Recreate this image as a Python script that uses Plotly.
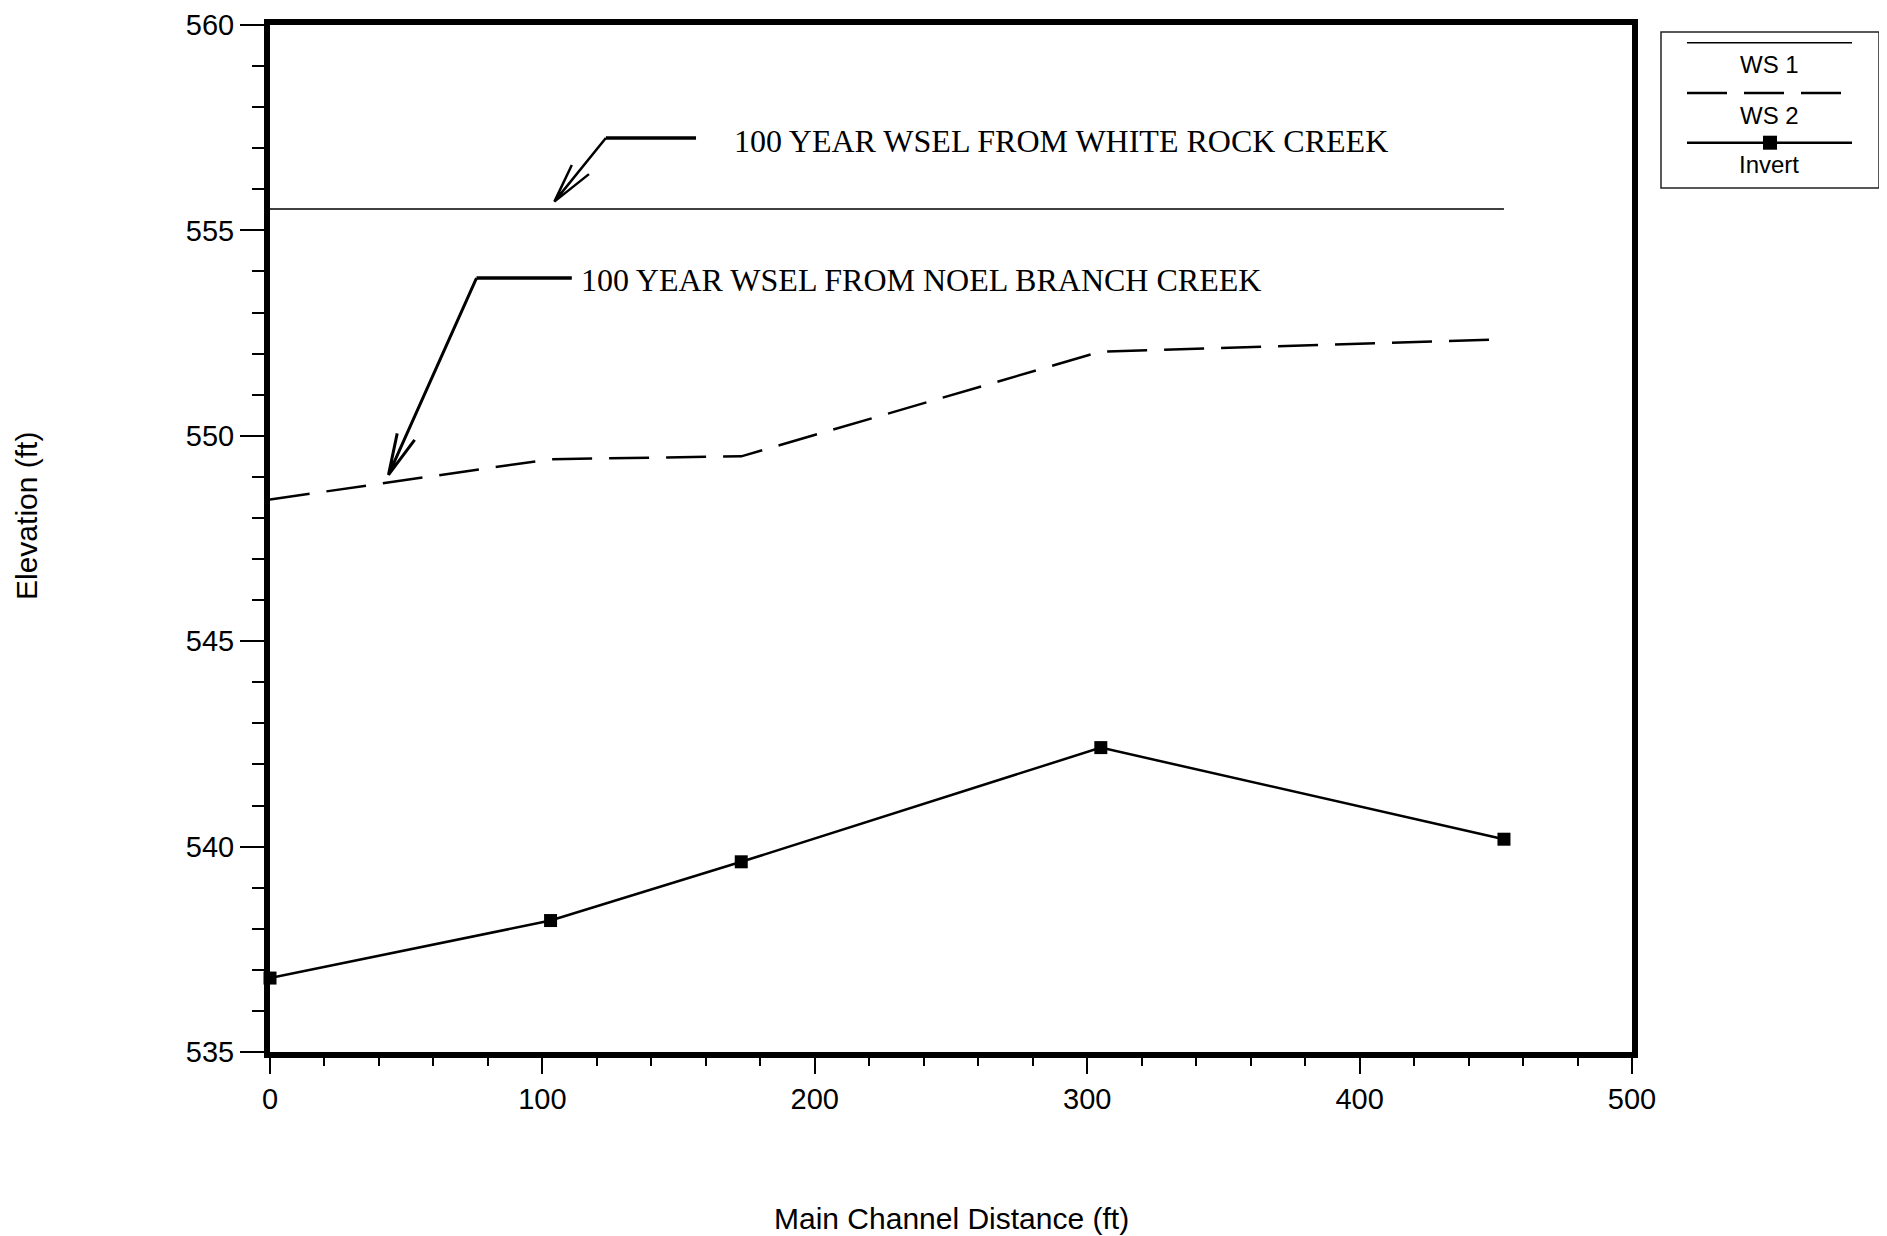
import plotly.graph_objects as go

# ---------------- data ----------------
station = [0, 103, 173, 305, 453]
ws1 = [555.52, 555.52, 555.52, 555.52, 555.52]
ws2 = [548.45, 549.43, 549.50, 552.05, 552.35]
invert = [536.80, 538.20, 539.63, 542.41, 540.18]

x_tick_vals = [0, 100, 200, 300, 400, 500]
y_tick_vals = [535, 540, 545, 550, 555, 560]
series_names = ["WS 1", "WS 2", "Invert"]
x_title = "Main Channel Distance (ft)"
y_title = "Elevation (ft)"
note_white = "100 YEAR WSEL FROM WHITE ROCK CREEK"
note_noel = "100 YEAR WSEL FROM NOEL BRANCH CREEK"

# ---------------- layout geometry (page pixels) ----------------
W, H = 1887, 1236
OFF = 8  # default body margin of the page
L, R, T, B = 270, 1632, 25, 1052
SANS = "Liberation Sans, Arial, sans-serif"
SERIF = "Liberation Serif, Times New Roman, serif"
DASH = "40px,17px"


def px(x):
    return (x - L) / (R - L)


def py(y):
    return (B - y) / (B - T)


fig = go.Figure()
fig.add_trace(go.Scatter(x=station, y=ws1, mode="lines", name=series_names[0],
                         line=dict(color="black", width=1.5), showlegend=False))
fig.add_trace(go.Scatter(x=station, y=ws2, mode="lines", name=series_names[1],
                         line=dict(color="black", width=2.5, dash=DASH), showlegend=False))
fig.add_trace(go.Scatter(x=station, y=invert, mode="lines+markers", name=series_names[2],
                         line=dict(color="black", width=2.5),
                         marker=dict(symbol="square", size=13, color="black"),
                         cliponaxis=False, showlegend=False))

shapes = []
annotations = []

# leader for White Rock Creek
shapes.append(dict(type="path", xref="x", yref="y",
                   path="M 123.3,557.25 L 156.4,557.25",
                   line=dict(color="black", width=3.5)))
shapes.append(dict(type="path", xref="x", yref="y",
                   path="M 123.3,557.25 L 104.4,555.70 M 110.8,556.59 L 104.4,555.70 L 117.1,556.37",
                   line=dict(color="black", width=2.5)))
annotations.append(dict(x=169.5, y=557.18, xref="x", yref="y", text=note_white,
                        showarrow=False, xanchor="left", yanchor="middle",
                        font=dict(family=SERIF, size=32, color="black")))

# leader for Noel Branch Creek
shapes.append(dict(type="path", xref="x", yref="y",
                   path="M 75.8,553.84 L 110.8,553.84",
                   line=dict(color="black", width=3.5)))
shapes.append(dict(type="path", xref="x", yref="y",
                   path="M 75.8,553.84 L 43.5,549.05 M 46.7,550.06 L 43.5,549.05 L 53.1,549.90",
                   line=dict(color="black", width=3)))
annotations.append(dict(x=113.4, y=553.80, xref="x", yref="y", text=note_noel,
                        showarrow=False, xanchor="left", yanchor="middle",
                        font=dict(family=SERIF, size=32, color="black")))

# axis titles
annotations.append(dict(x=px(26), y=py(516), xref="paper", yref="paper", text=y_title,
                        showarrow=False, textangle=-90, xanchor="center", yanchor="middle",
                        font=dict(family=SANS, size=30, color="black")))
annotations.append(dict(x=px(951), y=py(1218), xref="paper", yref="paper", text=x_title,
                        showarrow=False, xanchor="center", yanchor="middle",
                        font=dict(family=SANS, size=30, color="black")))

# legend box (drawn manually: sample line above label)
shapes.append(dict(type="rect", xref="paper", yref="paper",
                   x0=px(1661), x1=px(1879), y0=py(188), y1=py(32),
                   line=dict(color="#222222", width=1.5), fillcolor="white"))
lx0, lx1, lxc = px(1687), px(1852), px(1769)
shapes.append(dict(type="line", xref="paper", yref="paper", x0=lx0, x1=lx1,
                   y0=py(42.7), y1=py(42.7), line=dict(color="black", width=1.5)))
shapes.append(dict(type="line", xref="paper", yref="paper", x0=lx0, x1=lx1,
                   y0=py(93), y1=py(93), line=dict(color="black", width=2.5, dash=DASH)))
shapes.append(dict(type="line", xref="paper", yref="paper", x0=lx0, x1=lx1,
                   y0=py(142.7), y1=py(142.7), line=dict(color="black", width=2.5)))
shapes.append(dict(type="rect", xref="paper", yref="paper",
                   x0=px(1770 - 7), x1=px(1770 + 7), y0=py(142.7 + 7), y1=py(142.7 - 7),
                   line=dict(color="black", width=0), fillcolor="black"))
for name, yy in zip(series_names, [65, 115, 164]):
    annotations.append(dict(x=lxc, y=py(yy), xref="paper", yref="paper", text=name,
                            showarrow=False, xanchor="center", yanchor="middle",
                            font=dict(family=SANS, size=24, color="black")))

FW, FH = W - OFF, H - OFF
fig.update_layout(
    width=FW, height=FH, autosize=False,
    margin=dict(l=L - OFF, r=FW - (R - OFF), t=T - OFF, b=FH - (B - OFF), pad=0),
    paper_bgcolor="white", plot_bgcolor="white",
    shapes=shapes, annotations=annotations,
    font=dict(family=SANS, color="black"),
)
fig.update_xaxes(range=[0, 500], tickvals=x_tick_vals, ticktext=[str(v) for v in x_tick_vals],
                 automargin=False, showgrid=False, zeroline=False,
                 showline=True, linecolor="black", linewidth=6, mirror=True,
                 ticks="outside", ticklen=16, tickwidth=2, tickcolor="black",
                 minor=dict(dtick=20, tick0=0, ticks="outside", ticklen=8, tickwidth=1.5, tickcolor="black"),
                 tickfont=dict(family=SANS, size=29, color="black"))
fig.update_yaxes(range=[535, 560], tickvals=y_tick_vals, ticktext=[str(v) for v in y_tick_vals],
                 automargin=False, showgrid=False, zeroline=False,
                 showline=True, linecolor="black", linewidth=6, mirror=True,
                 ticks="outside", ticklen=24, tickwidth=2, tickcolor="black",
                 minor=dict(dtick=1, tick0=535, ticks="outside", ticklen=12, tickwidth=1.5, tickcolor="black"),
                 tickfont=dict(family=SANS, size=29, color="black"))

fig.write_html("out.html", config={"displayModeBar": False})
